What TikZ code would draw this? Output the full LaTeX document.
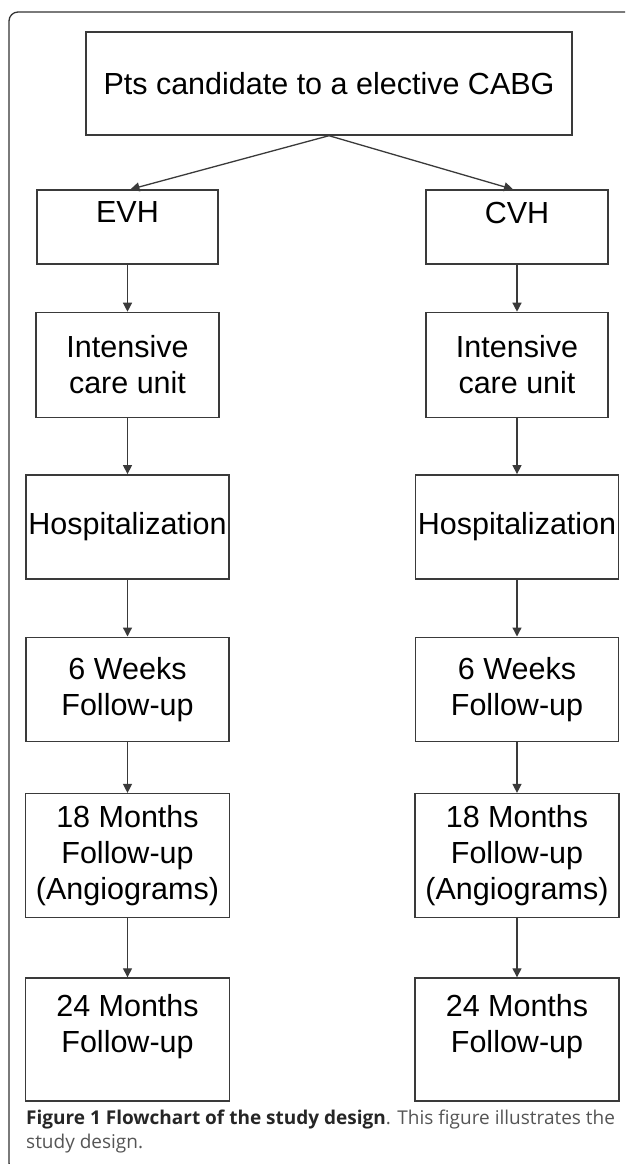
\documentclass[tikz,border=0pt]{standalone}
\usepackage{fontspec}
\setmainfont{Liberation Sans}
\newfontfamily\captionfont{Open Sans}
\usetikzlibrary{arrows.meta, positioning}
\definecolor{BoxLine}{HTML}{3A3A3A}
\definecolor{FrameLine}{HTML}{333333}
\definecolor{CaptionGray}{HTML}{555555}
\tikzset{
  % Box styles
  flowbox/.style={rectangle, draw=BoxLine, line width=1.4pt, fill=white, inner sep=0pt, align=center, font=\fontsize{30.5}{36}\selectfont},
  captionbox/.style={inner sep=0pt, align=left, text=CaptionGray, font=\captionfont\fontsize{19}{24}\selectfont},
  % Arrow styles
  arrow/.style={-{Triangle[length=9pt, width=9pt]}, line width=1.3pt, BoxLine}
}
\begin{document}
\begin{tikzpicture}[x=1pt, y=-1pt]
  \useasboundingbox (0,0) rectangle (625,1164);

  % Frame
  \begin{scope}
    \clip (0,0) rectangle (625,1164);
    \draw[FrameLine, line width=1.3pt, rounded corners=9pt] (9,12) rectangle (660,1172);
  \end{scope}

  % Entry
  \node[flowbox, minimum width=486pt, minimum height=103pt] (pts) at (329,83.5) {Pts candidate to a elective CABG};

  % EVH arm
  \node[flowbox, minimum width=181pt, minimum height=74pt] (evh) at (127.5,227) {EVH\\[-7pt]~};
  \node[flowbox, minimum width=183pt, minimum height=105pt, below=47pt of evh] (icuL) {Intensive\\care unit};
  \node[flowbox, minimum width=203pt, minimum height=104pt, below=56pt of icuL] (hospL) {Hospitalization};
  \node[flowbox, minimum width=203pt, minimum height=104pt, below=57pt of hospL] (weeksL) {6 Weeks\\Follow-up};
  \node[flowbox, minimum width=204pt, minimum height=124pt, below=51pt of weeksL] (angioL) {18 Months\\Follow-up\\(Angiograms)};
  \node[flowbox, minimum width=204pt, minimum height=123pt, below=59pt of angioL] (lastL) {24 Months\\Follow-up\\[-4pt]~};

  % CVH arm
  \node[flowbox, minimum width=182pt, minimum height=74pt] (cvh) at (517,227) {CVH\\[-7pt]~};
  \node[flowbox, minimum width=182pt, minimum height=105pt, below=47pt of cvh] (icuR) {Intensive\\care unit};
  \node[flowbox, minimum width=203pt, minimum height=104pt, below=56pt of icuR] (hospR) {Hospitalization};
  \node[flowbox, minimum width=203pt, minimum height=104pt, below=57pt of hospR] (weeksR) {6 Weeks\\Follow-up};
  \node[flowbox, minimum width=204pt, minimum height=124pt, below=51pt of weeksR] (angioR) {18 Months\\Follow-up\\(Angiograms)};
  \node[flowbox, minimum width=204pt, minimum height=123pt, below=59pt of angioR] (lastR) {24 Months\\Follow-up\\[-4pt]~};

  % Arrows
  \draw[arrow] (pts.south) -- ([xshift=3pt]evh.north);
  \draw[arrow] (pts.south) -- ([xshift=-4pt]cvh.north);
  \draw[arrow] (evh) -- (icuL);
  \draw[arrow] (icuL) -- (hospL);
  \draw[arrow] (hospL) -- (weeksL);
  \draw[arrow] (weeksL) -- (angioL);
  \draw[arrow] (angioL) -- (lastL);
  \draw[arrow] (cvh) -- (icuR);
  \draw[arrow] (icuR) -- (hospR);
  \draw[arrow] (hospR) -- (weeksR);
  \draw[arrow] (weeksR) -- (angioR);
  \draw[arrow] (angioR) -- (lastR);

  % Caption
  \node[captionbox, anchor=north west] (caption) at (26,1109.5) {\textbf{\color{black!85}Figure 1 Flowchart of the study design}. This figure illustrates the\\study design.};
\end{tikzpicture}
\end{document}
